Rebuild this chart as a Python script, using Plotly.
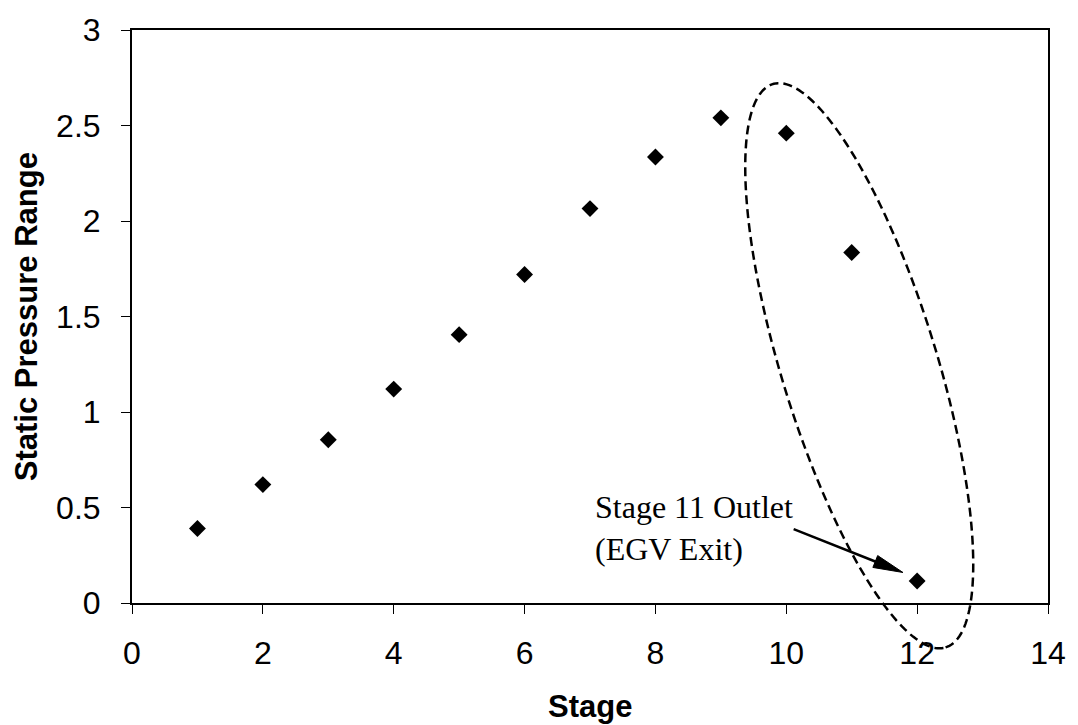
import numpy as np
import plotly.graph_objects as go

# ---- data ----
stages = [1, 2, 3, 4, 5, 6, 7, 8, 9, 10, 11, 12]
pressure = [0.39, 0.62, 0.855, 1.12, 1.405, 1.72, 2.065, 2.335, 2.54, 2.46, 1.835, 0.115]
x_ticks = [0, 2, 4, 6, 8, 10, 12, 14]
y_ticks = [0, 0.5, 1, 1.5, 2, 2.5, 3]
x_title = "Stage"
y_title = "Static Pressure Range"
note_text = "Stage 11 Outlet<br>(EGV Exit)"

# ---- layout geometry ----
W, H = 1078, 725
ML, MR, MT, MB = 132, 24, 21, 122
PW, PH = W - ML - MR, H - MT - MB


def to_paper(px, py):
    return (px - ML) / PW, (H - MB - py) / PH


fig = go.Figure()
fig.add_trace(go.Scatter(
    x=stages, y=pressure, mode="markers",
    marker=dict(symbol="diamond", size=13, color="black", line=dict(width=0)),
    showlegend=False, cliponaxis=False,
))

# dashed ellipse (pixel-space geometry converted to paper coords)
cx, cy, a, b, th = 864, 362, 299, 78.3, np.deg2rad(16.9)
u = np.array([np.sin(th), np.cos(th)])
v = np.array([np.cos(th), -np.sin(th)])
t = np.linspace(0, 2 * np.pi, 240)
pts = [np.array([cx, cy]) + a * np.cos(tt) * u + b * np.sin(tt) * v for tt in t]
path = "M " + " L ".join("%.5f,%.5f" % to_paper(p[0], p[1]) for p in pts) + " Z"
shapes = [dict(type="path", path=path, xref="paper", yref="paper",
               line=dict(color="black", width=2.5, dash="9px,5px"))]

# arrow
tail = np.array([798, 528.0])
tip = np.array([908, 572.0])
d = tip - tail
d = d / np.linalg.norm(d)
perp = np.array([-d[1], d[0]])
base = tip - 30 * d
x0, y0 = to_paper(*tail)
x1, y1 = to_paper(*(base + 2 * d))
shapes.append(dict(type="line", xref="paper", yref="paper", x0=x0, y0=y0, x1=x1, y1=y1,
                   line=dict(color="black", width=2.5)))
h1 = to_paper(*(base + 6.5 * perp))
h2 = to_paper(*(base - 6.5 * perp))
h3 = to_paper(*tip)
shapes.append(dict(type="path", xref="paper", yref="paper",
                   path="M %.5f,%.5f L %.5f,%.5f L %.5f,%.5f Z" % (h1 + h3 + h2),
                   fillcolor="black", line=dict(color="black", width=1)))

ann = []
nx, ny = to_paper(596, 527)
ann.append(dict(text=note_text, xref="paper", yref="paper", x=nx, y=ny,
                xanchor="left", yanchor="middle", align="left", showarrow=False,
                font=dict(family="Liberation Serif", size=32, color="black")))
tx, ty = to_paper(593, 708)
ann.append(dict(text="<b>%s</b>" % x_title, xref="paper", yref="paper", x=tx, y=ty,
                xanchor="center", yanchor="middle", showarrow=False,
                font=dict(family="Liberation Sans", size=31, color="black")))
yx, yy = to_paper(26, 312)
ann.append(dict(text="<b>%s</b>" % y_title, xref="paper", yref="paper", x=yx, y=yy,
                xanchor="center", yanchor="middle", showarrow=False, textangle=-90,
                font=dict(family="Liberation Sans", size=31, color="black")))

axis_common = dict(showgrid=False, zeroline=False, showline=True, linecolor="black",
                   linewidth=2, mirror=True, ticks="outside", ticklen=9, tickwidth=1,
                   tickcolor="black",
                   tickfont=dict(family="Liberation Sans", size=32, color="black"))

fig.update_layout(
    width=W, height=H, margin=dict(l=ML, r=MR, t=MT, b=MB),
    paper_bgcolor="white", plot_bgcolor="white",
    xaxis=dict(range=[0, 14], tickvals=x_ticks, ticklabelstandoff=12, **axis_common),
    yaxis=dict(range=[0, 3], tickvals=y_ticks, ticklabelstandoff=14, **axis_common),
    shapes=shapes, annotations=ann,
)

fig.write_html("out.html")
